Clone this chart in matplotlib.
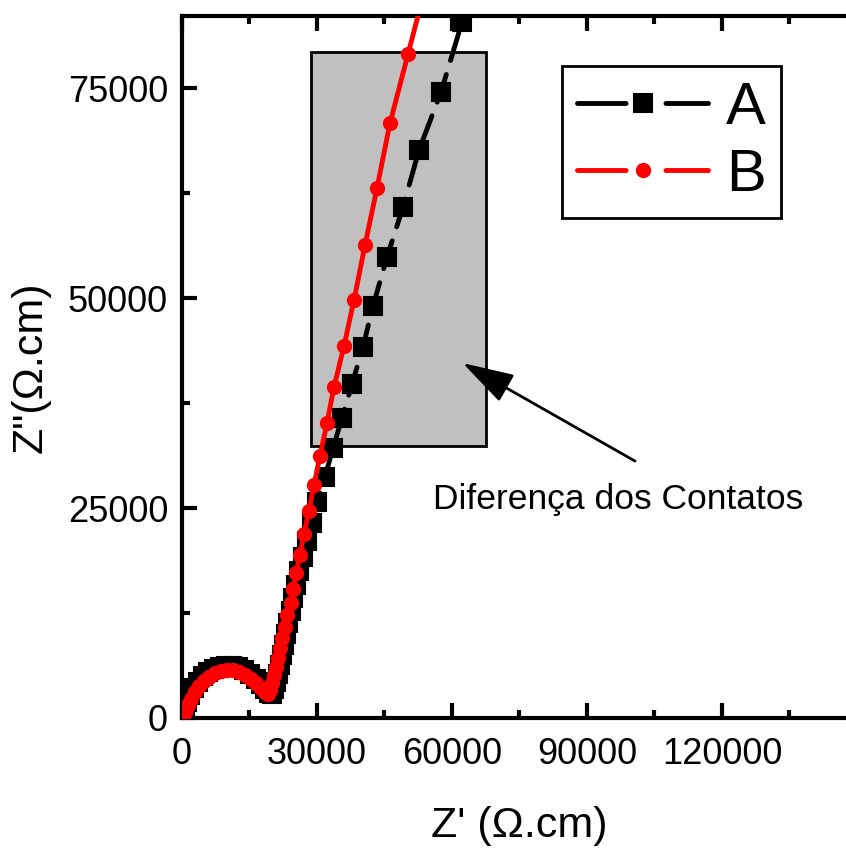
import numpy as np
import matplotlib.pyplot as plt
from matplotlib.lines import Line2D
from matplotlib.patches import Rectangle

plt.rcParams['font.family'] = ['Liberation Sans', 'DejaVu Sans']

# Nyquist data (ohm.cm)
a_zre = [444, 667, 1111, 1778, 2667, 3556, 4667, 5778, 7111, 8444, 9778, 11111,
         12444, 13778, 15111, 16444, 17556, 18444, 19333, 20000, 20444, 20889,
         21333, 21778, 22222, 22667, 23111, 23556, 24222, 24667, 25333, 26000,
         26889, 27778, 28889, 30000, 31778, 33556, 35556, 37778, 40222,
         42444, 45556, 49111, 52667, 57556, 62222]
a_zim = [0, 952, 1905, 2738, 3571, 4286, 5000, 5476, 5833, 6071, 6190, 6190,
         6071, 5714, 5238, 4643, 4048, 3452, 2976, 2857, 3452, 4286,
         5238, 6310, 7500, 8690, 10000, 11310, 12738, 14286, 15833, 17500,
         19167, 21071, 23214, 25714, 28690, 32143, 35714, 39762, 44167,
         49048, 54881, 60833, 67619, 74524, 82857]

b_zre = [222, 667, 1333, 2000, 2889, 3778, 4889, 6000, 7333, 8667, 10000, 11333,
         12667, 14000, 15333, 16444, 17556, 18444, 19111, 19556, 20000, 20444,
         20889, 21333, 21778, 22222, 22889, 23333, 24222, 24667, 25333, 26222,
         27111, 28222, 29333, 30667, 32222, 33778, 36000, 38222, 40667, 43333,
         46222, 50222, 54222]
b_zim = [0, 714, 1548, 2262, 3095, 3810, 4405, 4881, 5357, 5595, 5714, 5714,
         5476, 5119, 4643, 4167, 3571, 3095, 2857, 3333, 4167, 5119,
         6071, 7143, 8333, 9524, 10833, 12262, 13690, 15357, 17262, 19405,
         21905, 24643, 27738, 31190, 35119, 39405, 44286, 49762, 56310, 63095,
         70833, 79048, 87262]

labels = ['A', 'B']

fig = plt.figure(figsize=(8.46, 8.49), dpi=100)
ax = fig.add_axes([0.2151, 0.1543, 0.7979, 0.8269])

# highlighted region
ax.add_patch(Rectangle((28600, 32381), 67556 - 28600, 79321 - 32381,
                       facecolor='#c0c0c0', edgecolor='black', lw=2, zorder=1))

lw = 3.5
ax.plot(a_zre, a_zim, color='black', lw=lw, linestyle=(0, (6, 3)),
        dash_capstyle='round', marker='s', ms=13, mew=1.5, zorder=2)
ax.plot(b_zre, b_zim, color='red', lw=lw, marker='o', ms=10, mew=1, zorder=3)

ax.set_xlim(0, 150000)
ax.set_ylim(0, 83600)
ax.set_xticks([0, 30000, 60000, 90000, 120000])
ax.set_xticks(np.arange(15000, 150001, 30000), minor=True)
ax.set_yticks([0, 25000, 50000, 75000])
ax.set_yticks([12500, 37500, 62500], minor=True)

for s in ax.spines.values():
    s.set_linewidth(3)
ax.tick_params(which='both', direction='in', top=True, right=False, width=3,
               labelsize=26)
ax.tick_params(axis='x', pad=14)
ax.tick_params(axis='y', pad=10)
ax.tick_params(which='major', length=11)
ax.tick_params(which='minor', length=6)

ax.set_xlabel("Z' (\u03a9.cm)", fontsize=31, va='center')
ax.xaxis.set_label_coords(0.5, -0.154)
ax.set_ylabel('Z"(\u03a9.cm)', fontsize=31, va='center')
ax.yaxis.set_label_coords(-0.224, 0.5)

ax.annotate('', xy=(62378, 42262), xytext=(100667, 30595),
            arrowprops=dict(arrowstyle='-|>,head_length=0.5,head_width=0.15',
                            mutation_scale=64, lw=2, color='black',
                            shrinkA=0, shrinkB=0), zorder=4)
ax.text(55778, 24881, 'Diferença dos Contatos', fontsize=25.5,
        ha='left', va='baseline')

handle_ls = (0, (10, 8.2))
handles = [Line2D([], [], color='black', lw=lw, linestyle=handle_ls,
                  dash_capstyle='round', marker='s', ms=13, mew=1.5),
           Line2D([], [], color='red', lw=lw, linestyle=handle_ls,
                  dash_capstyle='round', marker='o', ms=10, mew=1)]
leg = ax.legend(handles, labels, loc='upper right', bbox_to_anchor=(0.8874, 0.9288),
                borderaxespad=0, fontsize=43, numpoints=1, handlelength=2.2,
                handletextpad=0.3, borderpad=0.25, labelspacing=0.2,
                fancybox=False, framealpha=1, edgecolor='black')
leg.get_frame().set_linewidth(2)

fig.savefig('out.png', dpi=100)
